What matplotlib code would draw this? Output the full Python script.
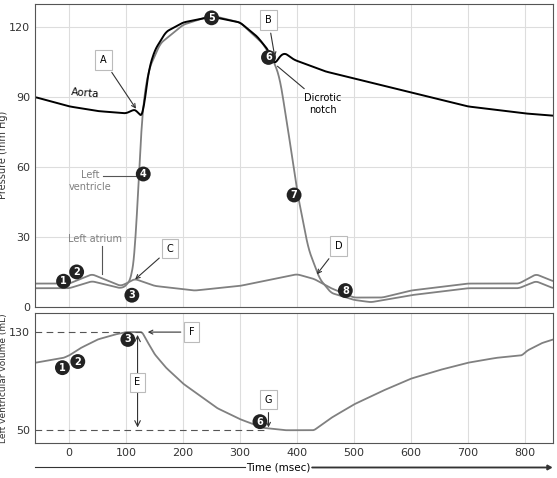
import numpy as np
import matplotlib.pyplot as plt

# pressure traces (mm Hg) vs time (msec)
aorta_t = [-60, 0, 50, 100, 112, 118, 124, 130, 134, 140, 150, 170, 200, 250, 300, 330, 350, 358, 362, 368, 378, 395, 450, 500, 600, 700, 800, 850]
aorta_p = [90, 86, 84, 83, 84.5, 84.5, 82, 82, 92, 102, 110, 118, 122, 124.5, 122, 116, 110, 105, 104, 107, 109, 106, 101, 98, 92, 86, 83, 82]
lv_t = [-60, 0, 40, 90, 100, 110, 116, 120, 125, 130, 140, 160, 200, 250, 300, 340, 360, 370, 385, 400, 420, 440, 460, 500, 530, 600, 700, 790, 820, 850]
lv_p = [8, 8, 11, 8, 9, 13, 25, 45, 70, 88, 102, 113, 121, 125, 122, 113, 105, 98, 75, 50, 25, 12, 6, 3, 2, 5, 8, 8, 11, 8]
la_t = [-60, 0, 40, 90, 100, 115, 150, 220, 300, 400, 430, 460, 500, 550, 600, 700, 790, 820, 850]
la_p = [10, 10, 14, 9, 10, 12, 9, 7, 9, 14, 12, 8, 4, 4, 7, 10, 10, 14, 11]
# left ventricular volume (mL)
vol_t = [-60, -10, 0, 20, 50, 80, 100, 128, 135, 150, 170, 200, 230, 260, 300, 340, 380, 430, 460, 500, 550, 600, 650, 700, 750, 795, 805, 830, 850]
vol_v = [105, 109, 111, 117, 124, 128, 130, 130, 124, 112, 101, 88, 78, 68, 59, 52, 50, 50, 60, 71, 82, 92, 99, 105, 109, 111, 115, 121, 124]

xticks = [0, 100, 200, 300, 400, 500, 600, 700, 800]

fig = plt.figure(figsize=(5.57, 4.78), dpi=100)
ax1 = fig.add_axes([0.063, 0.358, 0.93, 0.634])
ax2 = fig.add_axes([0.063, 0.073, 0.93, 0.272])
gray = '#808080'

def smooth(t, v, w=9):
    tt = np.linspace(t[0], t[-1], 800)
    vv = np.interp(tt, t, v)
    k = np.ones(w) / w
    vs = np.convolve(np.pad(vv, w // 2, mode='edge'), k, mode='valid')
    return tt, vs

for ax in (ax1, ax2):
    ax.set_xlim(-60, 850)
    ax.set_xticks(xticks)
    ax.grid(axis='x', color='#dddddd', lw=0.8)
    ax.tick_params(labelsize=8, colors='#333333', length=0)
    for s in ax.spines.values():
        s.set_color('#555555')

ax1.set_ylim(0, 130)
ax1.set_yticks([0, 30, 60, 90, 120])
ax1.grid(axis='y', color='#dddddd', lw=0.8)
ax1.set_xticklabels([])
ax1.set_ylabel('Pressure (mm Hg)', fontsize=7, color='#333333', labelpad=1)

ax1.plot(*smooth(la_t, la_p), color=gray, lw=1.3)
ax1.plot(*smooth(lv_t, lv_p), color=gray, lw=1.3)
ax1.plot(*smooth(aorta_t, aorta_p), color='black', lw=1.4)

ax2.set_ylim(39.5, 145.5)
ax2.set_yticks([50, 130])
ax2.set_ylabel('Left ventricular volume (mL)', fontsize=6.5, color='#333333', labelpad=1)
ax2.plot(*smooth(vol_t, vol_v, 5), color=gray, lw=1.3)
ax2.plot([-60, 128], [130, 130], color='#555555', lw=0.8, ls=(0, (6, 4)))
ax2.plot([-60, 350], [50, 50], color='#555555', lw=0.8, ls=(0, (6, 4)))

def circ(ax, x, y, n):
    ax.text(x, y, str(n), color='white', fontsize=7, fontweight='bold', ha='center', va='center',
            bbox=dict(boxstyle='circle,pad=0.25', fc='#222222', ec='none'))

for x, y, n in [(-10, 11, 1), (13, 15, 2), (110, 5, 3), (130, 57, 4), (250, 124, 5),
                (350, 107, 6), (395, 48, 7), (485, 7, 8)]:
    circ(ax1, x, y, n)
for x, y, n in [(-12, 101, 1), (15, 106, 2), (103, 124, 3), (335, 57, 6)]:
    circ(ax2, x, y, n)

box = dict(boxstyle='square,pad=0.5', fc='white', ec='#bbbbbb', lw=0.8)
arr = dict(arrowstyle='->', color='#333333', lw=0.8)
ax1.annotate('A', xy=(120, 84), xytext=(60, 106), fontsize=7, ha='center', va='center', bbox=box, arrowprops=arr)
ax1.annotate('B', xy=(362, 106), xytext=(350, 123), fontsize=7, ha='center', va='center', bbox=box, arrowprops=arr)
ax1.annotate('C', xy=(112, 11), xytext=(177, 25), fontsize=7, ha='center', va='center', bbox=box, arrowprops=arr)
ax1.annotate('D', xy=(432, 13), xytext=(473, 26), fontsize=7, ha='center', va='center', bbox=box, arrowprops=arr)
ax2.annotate('F', xy=(133, 130), xytext=(215, 130), fontsize=7, ha='center', va='center', bbox=box, arrowprops=arr)
ax2.annotate('G', xy=(350, 50), xytext=(350, 75), fontsize=7, ha='center', va='center', bbox=box, arrowprops=arr)
ax2.annotate('', xy=(120, 50), xytext=(120, 130), arrowprops=dict(arrowstyle='<->', color='#333333', lw=0.8))
ax2.text(120, 89, 'E', fontsize=7, ha='center', va='center', bbox=box)

ax1.text(28, 91.5, 'Aorta', fontsize=7.5, rotation=-5, ha='center', va='center')
ax1.text(37, 54, 'Left\nventricle', fontsize=7, color=gray, ha='center', va='center')
ax1.plot([60, 122], [56, 56], color='#555555', lw=0.8)
ax1.text(45, 29, 'Left atrium', fontsize=7, color=gray, ha='center', va='center')
ax1.plot([58, 58], [14, 26], color='#555555', lw=0.8)
ax1.annotate('Dicrotic\nnotch', xy=(362, 104), xytext=(445, 87), fontsize=7, ha='center', va='center',
             arrowprops=dict(arrowstyle='-', color='#333333', lw=0.8))

fig.text(0.5, 0.022, 'Time (msec)', fontsize=7.5, ha='center', va='center')
fig.add_artist(plt.Line2D([0.063, 0.44], [0.022, 0.022], color='#333333', lw=0.8))
fig.patches.append(plt.matplotlib.patches.FancyArrow(0.56, 0.022, 0.43, 0, width=0.001, head_width=0.01,
                   head_length=0.008, color='#333333', transform=fig.transFigure, length_includes_head=True))

fig.savefig('out.png')
